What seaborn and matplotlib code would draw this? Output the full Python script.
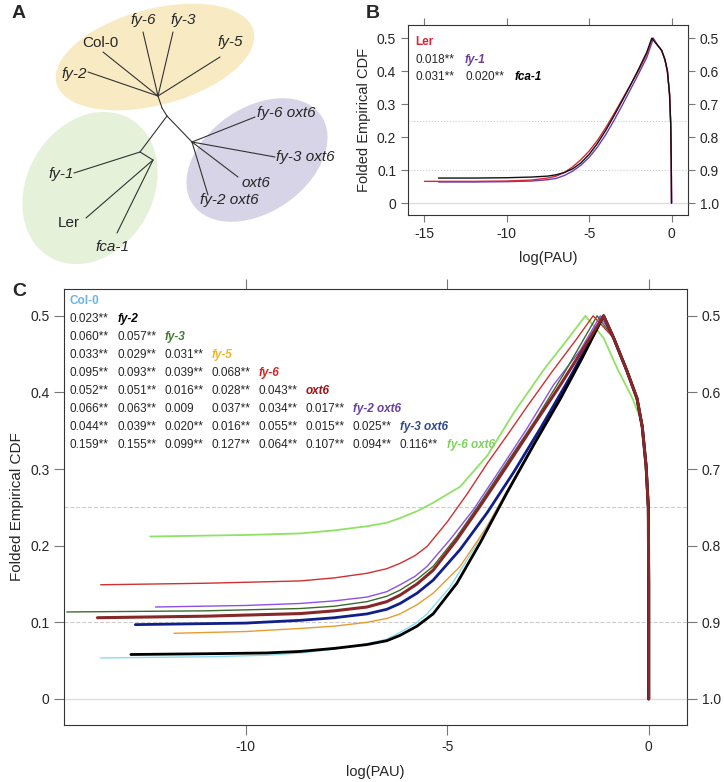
import numpy as np
import pandas as pd
import matplotlib
matplotlib.use("Agg")
import matplotlib.pyplot as plt
from matplotlib.patches import Ellipse
import seaborn as sns

sns.set_style("white")
plt.rcParams['font.family'] = ['Liberation Sans', 'DejaVu Sans']

# ---------------- Panel A : unrooted tree ----------------
blob_x = [155, 90, 257]
blob_y = [57, 188, 160]
blob_w = [204, 160, 156]
blob_h = [96, 126, 104]
blob_angle = [-15, -60, -35]
blob_color = ['#F8EBC4', '#E6F1DA', '#D6D4E6']

node_names = ['hub', 'trunk', 'root', 'g1', 'g2', 'p1']
node_x = [158, 162, 167, 140, 153, 192]
node_y = [96, 108, 116, 152, 160, 142]
inner_edges = [('hub', 'trunk'), ('trunk', 'root'), ('root', 'g1'), ('g1', 'g2'), ('root', 'p1')]

leaf_names = ['fy-2', 'Col-0', 'fy-6', 'fy-3', 'fy-5', 'fy-1', 'Ler', 'fca-1',
              'fy-6 oxt6', 'fy-3 oxt6', 'oxt6', 'fy-2 oxt6']
leaf_x = [88, 103, 143, 173, 220, 74, 86, 117, 255, 275, 238, 208]
leaf_y = [72, 52, 32, 32, 57, 173, 218, 233, 117, 157, 177, 195]
leaf_parent = ['hub', 'hub', 'hub', 'hub', 'hub', 'g1', 'g2', 'g2', 'p1', 'p1', 'p1', 'p1']
label_x = [87, 100, 143, 183, 230, 74, 69, 112, 257, 276, 242, 229]
label_y = [74, 43, 20, 20, 42, 174, 223, 247, 113, 157, 183, 200]
label_ha = ['right', 'center', 'center', 'center', 'center', 'right', 'center', 'center',
            'left', 'left', 'left', 'center']

# ---------------- Panel B ----------------
b_names = ['Ler', 'fy-1', 'fca-1']
b_colors = ['#D7263D', '#6A3FB8', '#111111']
b_label_colors = ['#D7263D', '#6B3FA0', '#000000']
ler_x = [-15, -12, -10, -8.5, -7.5, -7, -6.5, -6, -5.5, -5, -4.5, -4, -3.5, -3, -2.5, -2, -1.5, -1.16]
ler_y = [0.066, 0.066, 0.067, 0.07, 0.076, 0.082, 0.093, 0.11, 0.132, 0.158, 0.19, 0.228, 0.27, 0.314, 0.358, 0.402, 0.452, 0.5]
fy1_x = [-14.15, -12, -10, -8.5, -7.5, -7, -6.5, -6, -5.5, -5, -4.5, -4, -3.5, -3, -2.5, -2, -1.5, -1.1]
fy1_y = [0.064, 0.064, 0.065, 0.067, 0.071, 0.075, 0.084, 0.097, 0.115, 0.139, 0.17, 0.207, 0.25, 0.296, 0.344, 0.392, 0.442, 0.5]
fca1_x = [-14.15, -12, -10, -8.5, -7.5, -7, -6.5, -6, -5.5, -5, -4.5, -4, -3.5, -3, -2.5, -2, -1.5, -1.2]
fca1_y = [0.076, 0.076, 0.077, 0.079, 0.082, 0.086, 0.093, 0.104, 0.122, 0.148, 0.181, 0.22, 0.264, 0.31, 0.357, 0.406, 0.458, 0.5]
b_tail_x = [-0.9, -0.6, -0.4, -0.25, -0.12, -0.05, -0.015, 0]
b_tail_y = [0.482, 0.463, 0.435, 0.4, 0.33, 0.24, 0.12, 0]
b_dist = [[], ['0.018**'], ['0.031**', '0.020**']]

# ---------------- Panel C ----------------
c_names = ['Col-0', 'fy-2', 'fy-3', 'fy-5', 'fy-6', 'oxt6', 'fy-2 oxt6', 'fy-3 oxt6', 'fy-6 oxt6']
c_label_colors = ['#6CB4E4', '#000000', '#3F7F2F', '#F0B429', '#E02020', '#A50F15',
                  '#6B3FA0', '#2E4A8B', '#7CD35A']
c_line_colors = ['#87DDF2', '#000000', '#3C6A2E', '#E89B30', '#D03030', '#862828',
                 '#8E50E6', '#101F8A', '#8FE264']
c_lw = [1.0, 2.0, 1.0, 1.0, 1.0, 2.2, 1.0, 2.0, 1.3]

col0_x = [-13.6, -11, -9.5, -8.65, -7.8, -6.99, -6.5, -6.17, -5.8, -5.5, -4.93, -4.35, -3.68, -3.02, -2.36, -1.7, -1.12]
col0_y = [0.0535, 0.055, 0.057, 0.06, 0.065, 0.072, 0.078, 0.087, 0.098, 0.111, 0.146, 0.195, 0.256, 0.317, 0.379, 0.44, 0.5]
fy2_x = [-12.85, -11, -9.5, -8.65, -7.8, -6.99, -6.5, -6.17, -5.75, -5.35, -4.76, -4.18, -3.52, -2.86, -2.19, -1.65, -1.12]
fy2_y = [0.058, 0.059, 0.06, 0.062, 0.066, 0.071, 0.076, 0.083, 0.095, 0.111, 0.151, 0.204, 0.269, 0.331, 0.392, 0.445, 0.5]
fy3_x = [-14.44, -11, -8.65, -7.8, -6.99, -6.5, -6.17, -5.75, -5.35, -4.76, -4.18, -3.5, -2.8, -2.1, -1.28]
fy3_y = [0.1135, 0.115, 0.118, 0.121, 0.127, 0.134, 0.142, 0.156, 0.173, 0.212, 0.256, 0.31, 0.365, 0.425, 0.5]
fy5_x = [-11.78, -10, -8.65, -7.8, -6.99, -6.5, -6.17, -5.75, -5.35, -4.68, -4.01, -3.35, -2.69, -1.9, -1.12]
fy5_y = [0.0857, 0.088, 0.092, 0.095, 0.1, 0.105, 0.111, 0.123, 0.138, 0.173, 0.225, 0.287, 0.348, 0.42, 0.5]
fy6_x = [-13.6, -11, -8.65, -7.8, -6.99, -6.5, -6.17, -5.8, -5.5, -5.0, -4.5, -4.0, -3.5, -3.0, -2.4, -1.8, -1.38]
fy6_y = [0.149, 0.151, 0.154, 0.158, 0.164, 0.17, 0.177, 0.187, 0.199, 0.231, 0.268, 0.308, 0.345, 0.383, 0.427, 0.469, 0.5]
oxt6_x = [-13.68, -11, -8.65, -7.8, -6.99, -6.5, -6.17, -5.75, -5.35, -4.76, -4.18, -3.52, -2.86, -2.19, -1.65, -1.12]
oxt6_y = [0.106, 0.108, 0.1114, 0.115, 0.12, 0.127, 0.1355, 0.15, 0.168, 0.208, 0.252, 0.304, 0.357, 0.41, 0.455, 0.5]
fy2oxt6_x = [-12.24, -10, -8.65, -7.8, -6.99, -6.5, -6.17, -5.8, -5.5, -4.93, -4.35, -3.68, -3.02, -2.36, -1.7, -1.2]
fy2oxt6_y = [0.12, 0.122, 0.1246, 0.128, 0.133, 0.14, 0.149, 0.16, 0.173, 0.208, 0.247, 0.3, 0.353, 0.41, 0.455, 0.5]
fy3oxt6_x = [-12.74, -10, -8.65, -7.8, -6.99, -6.5, -6.17, -5.75, -5.35, -4.68, -4.01, -3.35, -2.69, -1.95, -1.12]
fy3oxt6_y = [0.097, 0.099, 0.1026, 0.106, 0.111, 0.117, 0.1246, 0.138, 0.155, 0.195, 0.243, 0.296, 0.353, 0.42, 0.5]
fy6oxt6_x = [-12.37, -10, -8.65, -7.8, -6.99, -6.5, -6.17, -5.75, -5.35, -4.68, -4.0, -3.33, -2.6, -2.02, -1.57,
             -1.12, -0.75, -0.41, -0.16, -0.065, -0.01, 0, 0]
fy6oxt6_y = [0.212, 0.214, 0.216, 0.22, 0.2254, 0.23, 0.236, 0.245, 0.256, 0.277, 0.318, 0.375, 0.43, 0.469, 0.5,
             0.471, 0.428, 0.393, 0.36, 0.304, 0.25, 0.15, 0]
c_tail_x = [-0.87, -0.54, -0.29, -0.16, -0.065, -0.01, 0, 0]
c_tail_y = [0.471, 0.428, 0.392, 0.355, 0.304, 0.25, 0.15, 0]

c_dist = [
    [],
    ['0.023**'],
    ['0.060**', '0.057**'],
    ['0.033**', '0.029**', '0.031**'],
    ['0.095**', '0.093**', '0.039**', '0.068**'],
    ['0.052**', '0.051**', '0.016**', '0.028**', '0.043**'],
    ['0.066**', '0.063**', '0.009', '0.037**', '0.034**', '0.017**'],
    ['0.044**', '0.039**', '0.020**', '0.016**', '0.055**', '0.015**', '0.025**'],
    ['0.159**', '0.155**', '0.099**', '0.127**', '0.064**', '0.107**', '0.094**', '0.116**'],
]

left_ticks = [0, 0.1, 0.2, 0.3, 0.4, 0.5]
left_labels = ['0', '0.1', '0.2', '0.3', '0.4', '0.5']
right_labels = ['1.0', '0.9', '0.8', '0.7', '0.6', '0.5']

W, H = 724, 782
fig = plt.figure(figsize=(W / 100, H / 100), dpi=100)

# ---- A ----
ax_a = fig.add_axes([0, 1 - 270 / H, 360 / W, 270 / H])
ax_a.set_xlim(0, 360)
ax_a.set_ylim(270, 0)
ax_a.axis('off')
for i in range(3):
    ax_a.add_patch(Ellipse((blob_x[i], blob_y[i]), blob_w[i], blob_h[i], angle=blob_angle[i],
                           facecolor=blob_color[i], edgecolor='none'))
pos = dict(zip(node_names, zip(node_x, node_y)))
for a, b in inner_edges:
    ax_a.plot([pos[a][0], pos[b][0]], [pos[a][1], pos[b][1]], color='#333333', lw=0.8)
for i, name in enumerate(leaf_names):
    p = pos[leaf_parent[i]]
    ax_a.plot([p[0], leaf_x[i]], [p[1], leaf_y[i]], color='#333333', lw=0.8)
    style = 'normal' if name in ('Col-0', 'Ler') else 'italic'
    ax_a.text(label_x[i], label_y[i], name, ha=label_ha[i], va='center',
              fontsize=11, style=style)


def style_axes(ax, xticks, xlim, ylim, grid_ls, tick_len, ylab_size, xpad):
    ax.set_xlim(*xlim)
    ax.set_ylim(*ylim)
    ax.axhline(0, color='#DDDDDD', lw=1, zorder=0)
    ax.axhline(0.1, color='#CCCCCC', lw=0.8, ls=grid_ls, zorder=0)
    ax.axhline(0.25, color='#CCCCCC', lw=0.8, ls=grid_ls, zorder=0)
    ax.set_xticks(xticks)
    ax.set_xticklabels([str(t) for t in xticks])
    ax.set_yticks(left_ticks)
    ax.set_yticklabels(left_labels)
    ax.tick_params(direction='out', length=tick_len, width=0.8, color='#777777',
                   labelsize=10, top=True, left=True, bottom=True)
    for s in ax.spines.values():
        s.set_color('#333333')
        s.set_linewidth(0.8)
    ax.set_xlabel('log(PAU)', fontsize=10.5, labelpad=xpad)
    ax.set_ylabel('Folded Empirical CDF', fontsize=ylab_size)
    ax2 = ax.twinx()
    ax2.set_ylim(*ylim)
    ax2.set_yticks(left_ticks)
    ax2.set_yticklabels(right_labels)
    ax2.tick_params(direction='out', length=tick_len, width=0.8, color='#777777', labelsize=10)
    for s in ax2.spines.values():
        s.set_visible(False)


# ---- B ----
ax_b = fig.add_axes([408 / W, 1 - 215 / H, 280 / W, 190 / H])
style_axes(ax_b, [-15, -10, -5, 0], (-16, 1), (-0.036, 0.54), ':', 5, 10.5, 7)
b_x = [ler_x, fy1_x, fca1_x]
b_y = [ler_y, fy1_y, fca1_y]
for k in [1, 0, 2]:
    sns.lineplot(x=b_x[k] + b_tail_x, y=b_y[k] + b_tail_y, sort=False, estimator=None,
                 color=b_colors[k], lw=1.0, ax=ax_b)

col_step_b = 50 / 280
for r in range(3):
    y = 0.91 - r * 0.092
    for c, txt in enumerate(b_dist[r]):
        ax_b.text(0.025 + c * col_step_b, y, txt, transform=ax_b.transAxes,
                  fontsize=8.5, va='center')
    ax_b.text(0.025 + r * col_step_b, y, b_names[r], transform=ax_b.transAxes,
              fontsize=8.5, va='center', color=b_label_colors[r], fontweight='bold',
              style='italic' if r > 0 else 'normal')

# ---- C ----
ax_c = fig.add_axes([64 / W, 1 - 725 / H, 623 / W, 436 / H])
style_axes(ax_c, [-10, -5, 0], (-14.51, 0.95), (-0.034, 0.535), '--', 7, 11, 8)
c_x = [col0_x, fy2_x, fy3_x, fy5_x, fy6_x, oxt6_x, fy2oxt6_x, fy3oxt6_x, fy6oxt6_x]
c_y = [col0_y, fy2_y, fy3_y, fy5_y, fy6_y, oxt6_y, fy2oxt6_y, fy3oxt6_y, fy6oxt6_y]
draw_order = [8, 0, 3, 6, 2, 4, 7, 1, 5]
for k in draw_order:
    xs, ys = c_x[k], c_y[k]
    if c_names[k] != 'fy-6 oxt6':
        xs, ys = xs + c_tail_x, ys + c_tail_y
    sns.lineplot(x=xs, y=ys, sort=False, estimator=None, color=c_line_colors[k],
                 lw=c_lw[k], ax=ax_c)

col_step_c = 47.1 / 623
row_step_c = 18 / 436
for r in range(len(c_names)):
    y = 0.973 - r * row_step_c
    for c, txt in enumerate(c_dist[r]):
        ax_c.text(0.0096 + c * col_step_c, y, txt, transform=ax_c.transAxes,
                  fontsize=8.5, va='center')
    ax_c.text(0.0096 + r * col_step_c, y, c_names[r], transform=ax_c.transAxes,
              fontsize=8.5, va='center', color=c_label_colors[r], fontweight='bold',
              style='normal' if r == 0 else 'italic')

fig.text(12 / W, 1 - 14 / H, 'A', fontsize=14, fontweight='bold', va='center')
fig.text(366 / W, 1 - 14 / H, 'B', fontsize=14, fontweight='bold', va='center')
fig.text(12 / W, 1 - 292 / H, 'C', fontsize=14, fontweight='bold', va='center')

fig.savefig('out.png', dpi=100)
